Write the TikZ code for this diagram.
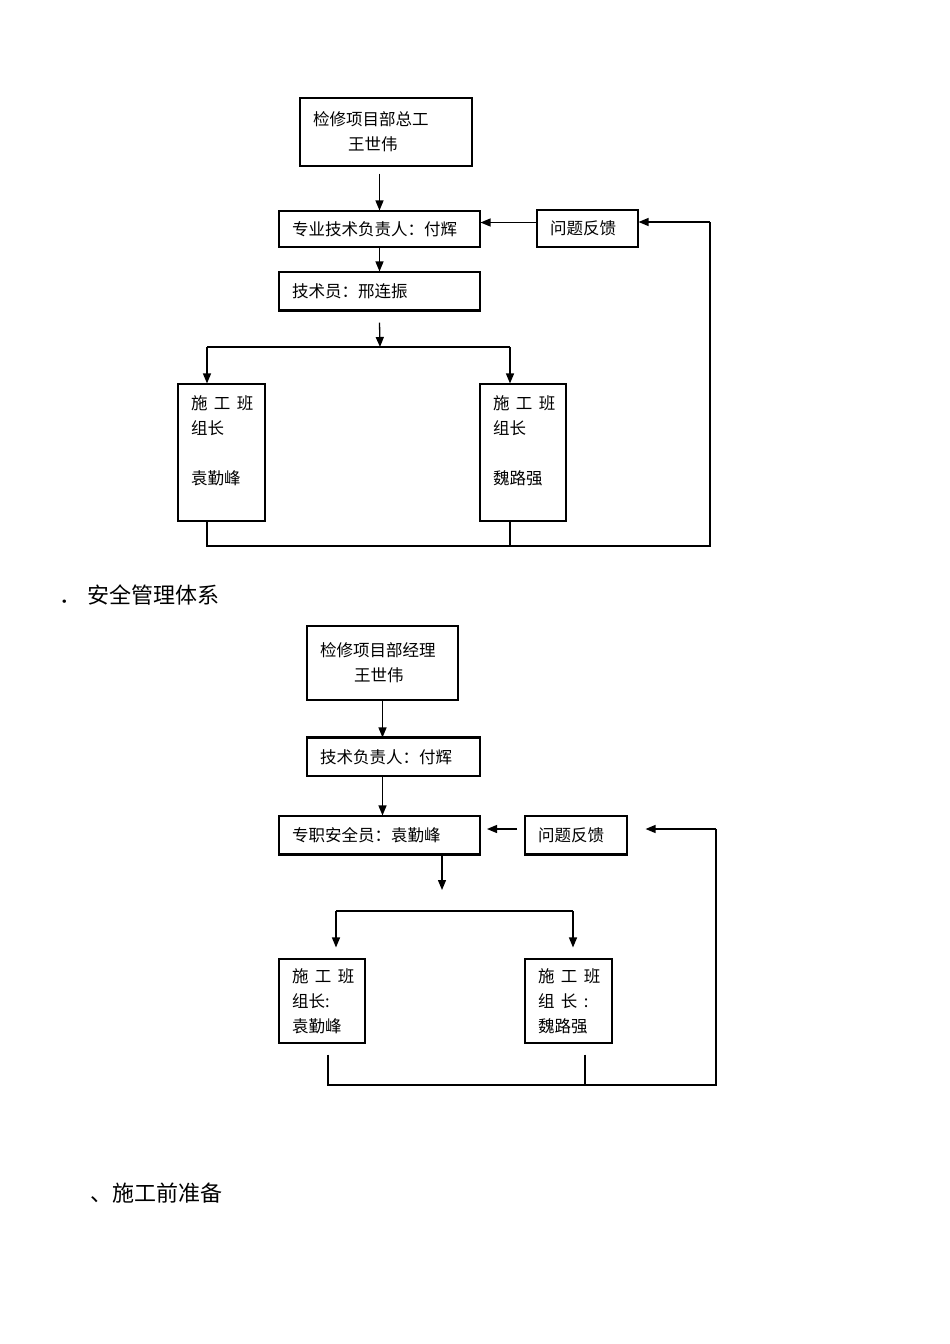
\documentclass[tikz,border=0pt]{standalone}
\usepackage{fontspec}
\newfontfamily\cjk{Noto Sans CJK SC}
\usetikzlibrary{arrows.meta,calc}
\newcommand\cgap{\hspace{6.5pt}}
\begin{document}
\begin{tikzpicture}[x=1pt, y=-1pt, >={Triangle[length=10pt,width=8pt]},
  every node/.style={font=\cjk\fontsize{16.5}{25}\selectfont},
  unit/.style={draw, line width=1.1pt, inner xsep=13pt, inner ysep=0pt, align=left},
  heading/.style={anchor=west, inner sep=0pt, font=\cjk\fontsize{22}{26}\selectfont},
  link/.style={line width=1.3pt}]
\useasboundingbox (0,0) rectangle (950,1344);
% technical system
\node[unit, text width=146pt, minimum height=68pt] (A) at (386,132) {检修项目部总工\\\hspace*{35pt}王世伟};
\node[unit, text width=175pt, minimum height=36pt] (B) at (379.5,229) {专业技术负责人：付辉};
\node[unit, text width=175pt, minimum height=38pt] (C) at (379.5,291) {技术员：邢连振};
\node[unit, text width=75pt, minimum height=37pt] (D) at (587.5,228.5) {问题反馈};
\node[unit, text width=61pt, minimum height=137pt] (E) at (221.5,452.5) {\mbox{施\cgap{}工\cgap{}班}\\组长\\[25pt]袁勤峰\\\mbox{}};
\node[unit, text width=60pt, minimum height=137pt] (F) at (523,452.5) {\mbox{施\cgap{}工\cgap{}班}\\组长\\[25pt]魏路强\\\mbox{}};
\draw[line width=2.2pt] (C.south west) -- (C.south east);
\coordinate (split) at (380,347);
\coordinate (sl) at (207,347);
\coordinate (sr) at (510,347);
\coordinate (loop) at (710,546);
\coordinate (fb) at (710,222);
\draw[link,->] ($(A.south -| B.north)+(0,7)$) -- (B.north);
\draw[link,->] (B.south) -- (C.north);
\draw[link,->] ([yshift=6pt]D.west) -- ([yshift=6pt]D.west -| B.east);
\draw[link,->] ($(C.south)+(0,12)$) -- (split);
\draw[link] (sl) -- (sr);
\draw[link,->] (sl) -- (sl |- E.north);
\draw[link,->] (sr) -- (sr |- F.north);
\draw[link] (sl |- E.south) -- (sl |- loop) -- (loop) -- (fb);
\draw[link,->] (fb) -- (fb -| D.east);
\draw[link] (sr |- F.south) -- (sr |- loop);
% safety system
\node[heading] (safety) at (59,595) {．\hspace{6pt}安全管理体系};
\node[unit, text width=125pt, minimum height=74pt] (G) at (382.5,663) {检修项目部经理\\\hspace*{34pt}王世伟};
\node[unit, text width=147pt, minimum height=38pt] (H) at (393.5,757) {技术负责人：付辉};
\node[unit, text width=175pt, minimum height=38pt] (I) at (379.5,835) {专职安全员：袁勤峰};
\node[unit, text width=76pt, minimum height=38pt] (J) at (576,835) {问题反馈};
\node[unit, text width=60pt, minimum height=84pt] (K) at (322,1001) {\mbox{施\cgap{}工\cgap{}班}\\组长:\\袁勤峰};
\node[unit, text width=61pt, minimum height=84pt] (L) at (568.5,1001) {\mbox{施\cgap{}工\cgap{}班}\\\mbox{组\cgap{}长\cgap{}:}\\魏路强};
\draw[line width=2.2pt] (H.north west) -- (H.north east);
\draw[line width=2.2pt] (I.south west) -- (I.south east);
\draw[line width=2.2pt] (J.south west) -- (J.south east);
\coordinate (q1) at (517,829);
\coordinate (q2) at (487,829);
\coordinate (drop) at (442,890);
\coordinate (tl) at (336,911);
\coordinate (tr) at (573,911);
\coordinate (bl) at (328,1085);
\coordinate (br) at (585,1085);
\coordinate (loop2) at (716,1085);
\coordinate (fb2) at (716,829);
\draw[link,->] (G.south) -- (G.south |- H.north);
\draw[link,->] (G.south |- H.south) -- (G.south |- I.north);
\draw[link,->] (q1) -- (q2);
\draw[link,->] (drop |- I.south) -- (drop);
\draw[link] (tl) -- (tr);
\draw[link,->] (tl) -- ($(tl |- K.north)+(0,-11)$);
\draw[link,->] (tr) -- ($(tr |- L.north)+(0,-11)$);
\draw[link] ($(bl |- K.south)+(0,11)$) -- (bl) -- (loop2) -- (fb2);
\draw[link,->] (fb2) -- ($(fb2 -| J.east)+(18,0)$);
\draw[link] ($(br |- L.south)+(0,11)$) -- (br);
% next section
\node[heading] (prep) at (90,1193) {、施工前准备};
\end{tikzpicture}
\end{document}
